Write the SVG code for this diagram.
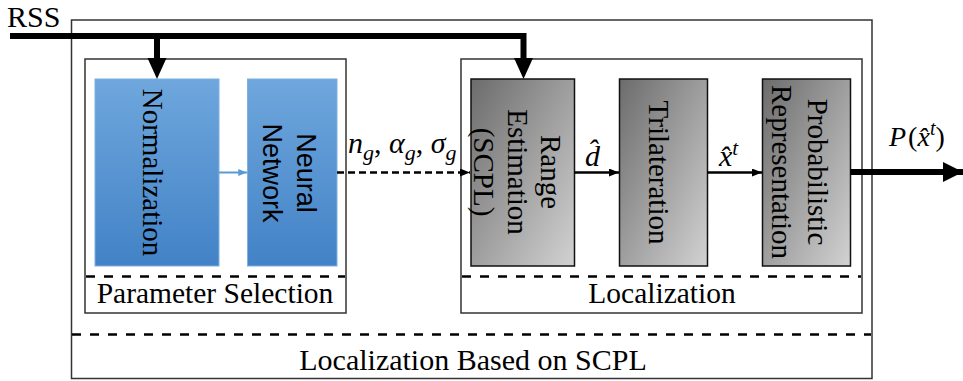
<svg xmlns="http://www.w3.org/2000/svg" width="963" height="381" viewBox="0 0 963 381">
  <defs>
    <linearGradient id="blueFill" x1="0" y1="0" x2="0" y2="1">
      <stop offset="0" stop-color="#6fa7dd"/>
      <stop offset="1" stop-color="#4282c6"/>
    </linearGradient>
    <linearGradient id="grayFill" x1="0" y1="0" x2="1" y2="1">
      <stop offset="0" stop-color="#6c6c6c"/>
      <stop offset="1" stop-color="#d2d2d2"/>
    </linearGradient>
    <marker id="headSmall" viewBox="0 0 10 8" refX="10" refY="4" markerWidth="10" markerHeight="8" markerUnits="userSpaceOnUse" orient="auto">
      <path d="M0,0 L10,4 L0,8 Z" fill="#000"/>
    </marker>
    <marker id="headBlue" viewBox="0 0 10 8" refX="10" refY="4" markerWidth="9" markerHeight="7" markerUnits="userSpaceOnUse" orient="auto">
      <path d="M0,0 L10,4 L0,8 Z" fill="#5b9bd5"/>
    </marker>
    <marker id="headBig" viewBox="0 0 20 20" refX="20" refY="10" markerWidth="20" markerHeight="20" markerUnits="userSpaceOnUse" orient="auto">
      <path d="M0,0 L20,10 L0,20 Z" fill="#000"/>
    </marker>
  </defs>
  <style>
    .frame { fill: #fff; stroke: #333; stroke-width: 1.5; }
    .sep { fill: none; stroke: #000; stroke-width: 2.5; stroke-dasharray: 9 9; }
    .blue { fill: url(#blueFill); stroke: #7fb0e0; stroke-width: 1; }
    .gray { fill: url(#grayFill); stroke: #111; stroke-width: 1.5; }
    .serif { font-family: "Liberation Serif", "Times New Roman", serif; fill: #000; }
    .sans { font-family: "Liberation Sans", Arial, sans-serif; fill: #000; }
    .math { font-family: "Liberation Serif", "Times New Roman", serif; font-style: italic; fill: #000; }
    .lbl { font-size: 29.5px; text-anchor: middle; }
    .vert { font-size: 29px; text-anchor: middle; dominant-baseline: central; }
    .thick { fill: none; stroke: #000; stroke-width: 6; }
    .thin { fill: none; stroke: #000; stroke-width: 2.5; }
  </style>

  <!-- outer container -->
  <g id="system">
    <rect class="frame" x="71.5" y="20" width="800.5" height="358.5"/>
    <line class="sep" x1="72" y1="334.5" x2="871" y2="334.5"/>
    <text class="serif lbl" x="473" y="370" style="font-size:30px">Localization Based on SCPL</text>
  </g>

  <!-- parameter selection stage -->
  <g id="parameter-selection">
    <rect class="frame" x="85" y="59" width="261" height="254"/>
    <line class="sep" x1="86" y1="276.5" x2="345" y2="276.5"/>
    <text class="serif lbl" x="215" y="303">Parameter Selection</text>
  </g>

  <!-- localization stage -->
  <g id="localization">
    <rect class="frame" x="461" y="59" width="401" height="254"/>
    <line class="sep" x1="462" y1="276.5" x2="861" y2="276.5"/>
    <text class="serif lbl" x="662" y="303">Localization</text>
  </g>

  <g id="normalization">
    <rect class="blue" x="95" y="79" width="124" height="187"/>
    <text class="serif vert" transform="translate(153,172.5) rotate(90)">Normalization</text>
  </g>

  <g id="neural-network">
    <rect class="blue" x="247.5" y="79" width="89.5" height="187"/>
    <g class="sans" style="font-size:27px; text-anchor:middle; dominant-baseline:central;">
      <text transform="translate(306,173) rotate(90)">Neural</text>
      <text transform="translate(272,173) rotate(90)">Network</text>
    </g>
  </g>

  <g id="range-estimation">
    <rect class="gray" x="471" y="79" width="103.5" height="187"/>
    <text class="serif vert" transform="translate(551,172) rotate(90)">Range</text>
    <text class="serif vert" transform="translate(518,172) rotate(90)">Estimation</text>
    <text class="serif vert" transform="translate(484,172) rotate(90)">(SCPL)</text>
  </g>

  <g id="trilateration">
    <rect class="gray" x="619.5" y="79" width="88" height="187"/>
    <text class="serif vert" transform="translate(659,172.5) rotate(90)">Trilateration</text>
  </g>

  <g id="probabilistic-representation">
    <rect class="gray" x="762.5" y="79" width="88" height="187"/>
    <text class="serif vert" transform="translate(818,172) rotate(90)">Probabilistic</text>
    <text class="serif vert" transform="translate(782,172) rotate(90)">Representation</text>
  </g>

  <!-- connectors -->
  <g id="connectors">
    <text class="serif" x="7" y="27" font-size="30">RSS</text>
    <path class="thick" d="M10,36 H523.5 V59"/>
    <line class="thick" x1="157" y1="36" x2="157" y2="59"/>
    <path d="M147.5,58 H166.5 L157,79 Z" fill="#000"/>
    <path d="M514,58 H533 L523.5,79 Z" fill="#000"/>

    <line x1="219" y1="172.5" x2="247" y2="172.5" stroke="#5b9bd5" stroke-width="2" marker-end="url(#headBlue)"/>

    <line x1="337" y1="172.5" x2="470" y2="172.5" stroke="#000" stroke-width="2.5" stroke-dasharray="7 4" marker-end="url(#headSmall)"/>
    <text class="math" x="348" y="153" font-size="30">n<tspan dy="7" font-size="22">g</tspan><tspan dy="-7" font-style="normal">, </tspan>α<tspan dy="7" font-size="22">g</tspan><tspan dy="-7" font-style="normal">, </tspan>σ<tspan dy="7" font-size="22">g</tspan></text>

    <line class="thin" x1="574.5" y1="172.5" x2="619" y2="172.5" marker-end="url(#headSmall)"/>
    <text class="math" x="585" y="166" font-size="30">d̂</text>

    <line class="thin" x1="707.5" y1="172.5" x2="762" y2="172.5" marker-end="url(#headSmall)"/>
    <text class="math" x="719" y="166" font-size="30">x̂<tspan dy="-11" font-size="21">t</tspan></text>

    <line x1="850.5" y1="172" x2="963" y2="172" stroke="#000" stroke-width="6" marker-end="url(#headBig)"/>
    <text class="math" x="889" y="146" font-size="28">P<tspan dx="2" font-style="normal">(</tspan>x̂<tspan dy="-11" font-size="20">t</tspan><tspan dy="11" font-style="normal">)</tspan></text>
  </g>
</svg>
